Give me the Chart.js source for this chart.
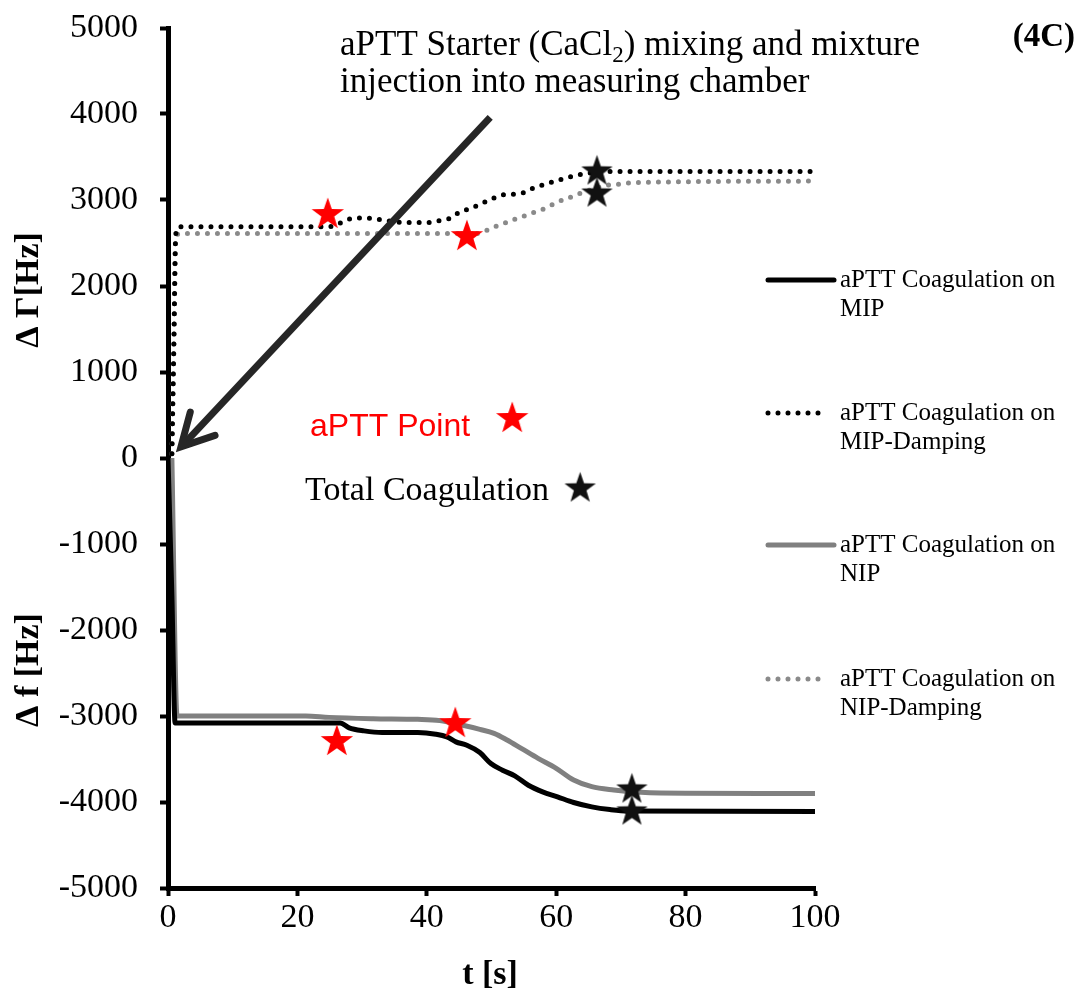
<!DOCTYPE html>
<html lang="en">
<head>
<meta charset="utf-8">
<title>aPTT Coagulation (4C)</title>
<script src="https://cdn.jsdelivr.net/npm/chart.js@4.4.1/dist/chart.umd.min.js"></script>
<style>
  html, body { margin: 0; padding: 0; background: #fff; }
  #holder { width: 1078px; height: 1001px; position: relative; }
</style>
</head>
<body>
<div id="holder"><canvas id="chart"></canvas></div>
<script>
// time [s] and signal [Hz]
const mipT = [0, 0.6, 1.1, 1.6, 26.6, 28, 30.3, 33.1, 35.9, 38.6, 41.4, 43.1, 44.5, 46.2, 48.2, 49.9, 51.7, 53.6, 55.7, 57.9, 60.2, 62.7, 65.5, 68.3, 71.1, 100];
const mipF = [0, -1600, -3080, -3080, -3080, -3138, -3173, -3192, -3192, -3192, -3212, -3243, -3301, -3340, -3425, -3553, -3630, -3696, -3805, -3882, -3940, -4006, -4057, -4088, -4105, -4110];

const mipDampT = [0.6, 0.9, 1.2, 1.8, 24.9, 26.3, 28.1, 29.8, 31.5, 33.2, 36.8, 40.2, 41.9, 43.6, 45, 46.8, 48.5, 49.9, 51.6, 53.3, 55, 56.4, 58.3, 60, 61.7, 63.4, 65.1, 66.5, 100];
const mipDampG = [50, 1300, 2600, 2690, 2690, 2721, 2779, 2791, 2787, 2768, 2737, 2737, 2760, 2787, 2857, 2903, 2962, 3008, 3059, 3066, 3086, 3136, 3183, 3222, 3260, 3291, 3311, 3330, 3330];

const nipT = [0.6, 1.4, 21.3, 24.9, 31.7, 38.6, 42, 45.4, 48.2, 50.4, 52.4, 54.6, 57.2, 60, 62.7, 65.5, 68.9, 73.1, 80, 100];
const nipF = [0, -3000, -3000, -3016, -3031, -3039, -3054, -3105, -3155, -3202, -3279, -3376, -3492, -3608, -3744, -3822, -3860, -3888, -3899, -3900];

const nipDampT = [0.6, 0.9, 1.2, 1.8, 47.5, 50.5, 52.3, 53.6, 55.5, 56.9, 58.6, 60, 61.7, 63.4, 64.8, 66.5, 67.9, 69.7, 71.1, 72.8, 100];
const nipDampG = [50, 1300, 2560, 2610, 2610, 2688, 2738, 2777, 2827, 2866, 2913, 2971, 3017, 3068, 3107, 3145, 3173, 3184, 3196, 3204, 3220];

// star markers (last one of each sits next to its text label)
const aPTTT = [24.7, 46.2, 26.1, 44.4, 53.2];
const aPTTV = [2849, 2593, -3279, -3070, 477];
const totalT = [66.3, 66.3, 71.7, 71.7, 63.7];
const totalV = [3349, 3093, -3837, -4093, -337];

const xTicks = [0, 20, 40, 60, 80, 100];
const yTicks = [5000, 4000, 3000, 2000, 1000, 0, -1000, -2000, -3000, -4000, -5000];

const legendNames = [
  ['aPTT Coagulation on', 'MIP'],
  ['aPTT Coagulation on', 'MIP-Damping'],
  ['aPTT Coagulation on', 'NIP'],
  ['aPTT Coagulation on', 'NIP-Damping']
];

const SERIF = "'Liberation Serif', 'Times New Roman', serif";
const SANS = "'Liberation Sans', Arial, sans-serif";

function pts(xs, ys) {
  return xs.map((x, i) => ({ x: x, y: ys[i] }));
}

function makeStar(color, size) {
  const c = document.createElement('canvas');
  c.width = size; c.height = size;
  const g = c.getContext('2d');
  const r = size / 2, ri = r * 0.4;
  g.beginPath();
  for (let i = 0; i < 10; i++) {
    const a = -Math.PI / 2 + i * Math.PI / 5;
    const rr = i % 2 ? ri : r;
    g.lineTo(r + rr * Math.cos(a), r + 1.5 + rr * Math.sin(a));
  }
  g.closePath();
  g.fillStyle = color;
  g.fill();
  return c;
}

const redStar = makeStar('#ff0000', 34);
const blackStar = makeStar('#111111', 33);

function lineSet(label, xs, ys, color, dotted) {
  return {
    label: label,
    data: pts(xs, ys),
    showLine: true,
    borderColor: color,
    backgroundColor: color,
    borderWidth: 5,
    borderDash: dotted ? [0, 10] : [],
    borderCapStyle: dotted ? 'round' : 'butt',
    pointRadius: 0,
    cubicInterpolationMode: 'monotone',
    order: 2
  };
}

const tickFont = { family: SERIF, size: 34 };

const overlay = {
  id: 'overlay',
  afterDatasetsDraw(chart) {
    const ctx = chart.ctx;
    const xs = chart.scales.x, ys = chart.scales.y;
    ctx.save();

    // arrow pointing at injection moment
    const x0 = xs.getPixelForValue(49.8), y0 = ys.getPixelForValue(3960);
    const x1 = xs.getPixelForValue(2.0), y1 = ys.getPixelForValue(130);
    ctx.strokeStyle = '#262626';
    ctx.lineWidth = 7;
    ctx.lineCap = 'butt';
    ctx.beginPath();
    ctx.moveTo(x0, y0);
    ctx.lineTo(x1 + 4, y1 - 4);
    ctx.stroke();
    const ang = Math.atan2(y1 - y0, x1 - x0);
    ctx.lineCap = 'round';
    ctx.lineJoin = 'miter';
    ctx.beginPath();
    ctx.moveTo(x1 + 36 * Math.cos(ang - 2.65), y1 + 36 * Math.sin(ang - 2.65));
    ctx.lineTo(x1, y1);
    ctx.lineTo(x1 + 36 * Math.cos(ang + 2.65), y1 + 36 * Math.sin(ang + 2.65));
    ctx.stroke();

    // annotation text
    ctx.fillStyle = '#000';
    ctx.textBaseline = 'alphabetic';
    ctx.textAlign = 'left';
    ctx.font = '35px ' + SERIF;
    let tx = 340;
    const p1 = 'aPTT Starter (CaCl';
    ctx.fillText(p1, tx, 55);
    tx += ctx.measureText(p1).width;
    ctx.font = '23px ' + SERIF;
    ctx.fillText('2', tx, 62);
    tx += ctx.measureText('2').width;
    ctx.font = '35px ' + SERIF;
    ctx.fillText(') mixing and mixture', tx, 55);
    ctx.fillText('injection into measuring chamber', 340, 92);

    ctx.font = 'bold 33px ' + SERIF;
    ctx.textAlign = 'right';
    ctx.fillText('(4C)', 1075, 46);

    ctx.textAlign = 'left';
    ctx.font = '32px ' + SANS;
    ctx.fillStyle = '#ff0000';
    ctx.fillText('aPTT Point', 310, 436);
    ctx.fillStyle = '#000';
    ctx.font = '34px ' + SERIF;
    ctx.fillText('Total Coagulation', 305, 500);

    // axis titles
    ctx.font = 'bold 34px ' + SERIF;
    ctx.textAlign = 'center';
    ctx.textBaseline = 'middle';
    ctx.save();
    ctx.translate(29, 290);
    ctx.rotate(-Math.PI / 2);
    ctx.fillText('\u0394 \u0393[Hz]', 0, 0);
    ctx.restore();
    ctx.save();
    ctx.translate(29, 670);
    ctx.rotate(-Math.PI / 2);
    ctx.fillText('\u0394 f [Hz]', 0, 0);
    ctx.restore();
    ctx.fillText('t [s]', 490, 975);

    // legend
    const rows = [280, 413, 545, 679];
    chart.data.datasets.filter(d => d.showLine).forEach((d, i) => {
      const y = rows[i];
      ctx.strokeStyle = d.borderColor;
      ctx.lineWidth = 5;
      ctx.setLineDash(d.borderDash);
      ctx.lineCap = 'round';
      ctx.beginPath();
      ctx.moveTo(768, y);
      ctx.lineTo(d.borderDash.length ? 826 : 834, y);
      ctx.stroke();
      ctx.setLineDash([]);
      ctx.fillStyle = '#000';
      ctx.font = '25px ' + SERIF;
      ctx.textAlign = 'left';
      ctx.textBaseline = 'middle';
      ctx.fillText(legendNames[i][0], 840, y);
      ctx.fillText(legendNames[i][1], 840, y + 29);
    });

    ctx.restore();
  }
};

const config = {
  type: 'scatter',
  data: {
    datasets: [
      lineSet('aPTT Coagulation on MIP', mipT, mipF, '#000000', false),
      lineSet('aPTT Coagulation on MIP-Damping', mipDampT, mipDampG, '#000000', true),
      lineSet('aPTT Coagulation on NIP', nipT, nipF, '#808080', false),
      lineSet('aPTT Coagulation on NIP-Damping', nipDampT, nipDampG, '#8a8a8a', true),
      {
        label: 'aPTT Point',
        data: pts(aPTTT, aPTTV),
        pointStyle: redStar,
        pointRadius: 17,
        showLine: false,
        order: 0
      },
      {
        label: 'Total Coagulation',
        data: pts(totalT, totalV),
        pointStyle: blackStar,
        pointRadius: 17,
        showLine: false,
        order: 1
      }
    ]
  },
  options: {
    responsive: true,
    maintainAspectRatio: false,
    animation: false,
    layout: { padding: { top: 28, right: 263, left: 0, bottom: 0 } },
    plugins: {
      legend: { display: false },
      tooltip: { enabled: false }
    },
    scales: {
      x: {
        type: 'linear',
        min: 0,
        max: 100,
        afterBuildTicks: s => { s.ticks = xTicks.map(v => ({ value: v })); },
        afterFit: s => { s.height = 113; s.paddingLeft = 0; s.paddingRight = 0; },
        ticks: { font: tickFont, color: '#000', padding: 2, maxRotation: 0, callback: v => String(v) },
        grid: { drawOnChartArea: false, drawTicks: true, tickLength: 8, tickWidth: 4, tickColor: '#000' },
        border: { display: true, color: '#000', width: 5 }
      },
      y: {
        min: -5000,
        max: 5000,
        afterBuildTicks: s => { s.ticks = yTicks.map(v => ({ value: v })); },
        afterFit: s => { s.width = 168; s.paddingTop = 0; s.paddingBottom = 0; },
        ticks: { font: tickFont, color: '#000', padding: 22, callback: v => String(v) },
        grid: { drawOnChartArea: false, drawTicks: true, tickLength: 8, tickWidth: 4, tickColor: '#000' },
        border: { display: true, color: '#000', width: 5 }
      }
    }
  },
  plugins: [overlay]
};

window.onload = function () {
  const ctx = document.getElementById('chart').getContext('2d');
  window.myChart = new Chart(ctx, config);
};
</script>
</body>
</html>
